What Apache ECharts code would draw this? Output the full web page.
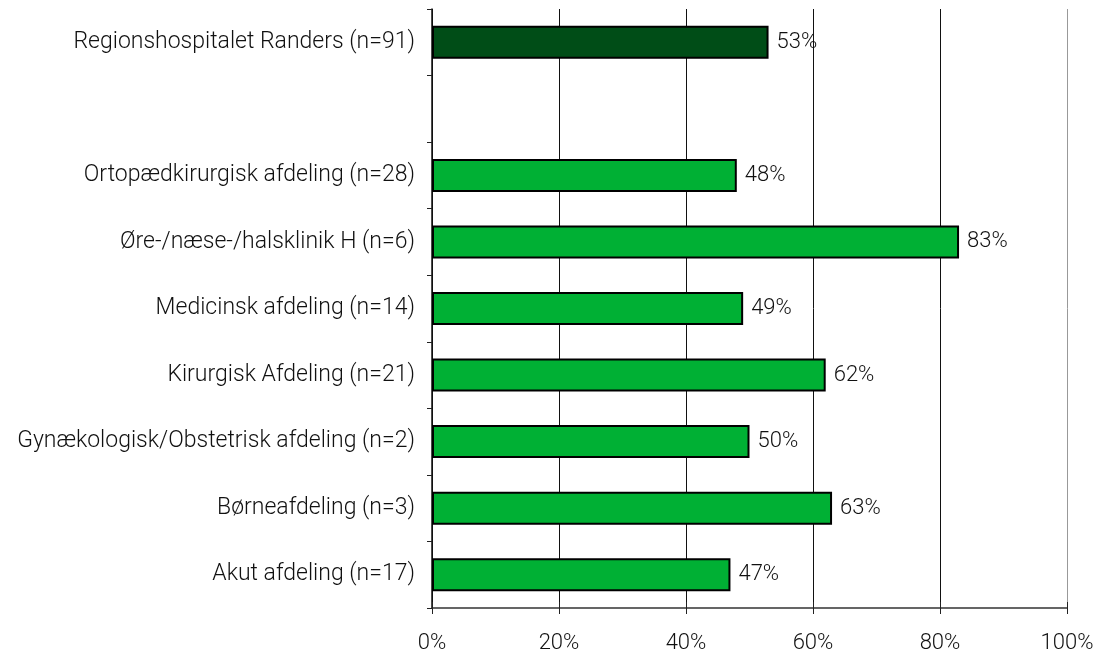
<!DOCTYPE html>
<html><head><meta charset="utf-8">
<script src="https://cdn.jsdelivr.net/npm/echarts@6/dist/echarts.min.js"></script>
<style>html,body{margin:0;padding:0;background:#fff}#c{width:1099px;height:658px}</style>
</head><body><div id="c"></div>
<script>
const categories = ['Regionshospitalet Randers (n=91)', '', 'Ortopædkirurgisk afdeling (n=28)', 'Øre-/næse-/halsklinik H (n=6)', 'Medicinsk afdeling (n=14)', 'Kirurgisk Afdeling (n=21)', 'Gynækologisk/Obstetrisk afdeling (n=2)', 'Børneafdeling (n=3)', 'Akut afdeling (n=17)'];
const values = [53, null, 48, 83, 49, 62, 50, 63, 47];
const highlightIndex = 0;
const xTicks = [0, 20, 40, 60, 80, 100];

const FONT = 'Roboto';
const FW = 300;
const chart = echarts.init(document.getElementById('c'), null, {renderer: 'canvas'});
const grid = {left: 432, right: 32, top: 9, bottom: 50};
chart.setOption({
  animation: false,
  grid: grid,
  xAxis: [{
    type: 'value', min: xTicks[0], max: xTicks[xTicks.length - 1], interval: 20,
    axisLine: {show: true, lineStyle: {color: '#333', width: 1.5}},
    axisTick: {show: true, length: 6, lineStyle: {color: '#222'}},
    axisLabel: {formatter: v => v + '%', fontFamily: FONT, fontWeight: FW, fontSize: 22, color: '#111', margin: 24},
    splitLine: {show: true, lineStyle: {color: ['#111', '#111', '#111', '#111', '#111', '#999'], width: 1}}
  }, {
    type: 'value', min: xTicks[0], max: xTicks[xTicks.length - 1], interval: 20, position: 'bottom',
    axisLine: {show: false}, axisLabel: {show: false}, splitLine: {show: false},
    axisTick: {show: true, inside: true, length: 6, lineStyle: {color: '#222'}}
  }],
  yAxis: {
    type: 'category', data: categories, inverse: true,
    axisLine: {show: true, lineStyle: {color: '#111', width: 1.5}},
    axisTick: {show: true, length: 5, lineStyle: {color: '#222'}},
    axisLabel: {fontFamily: FONT, fontWeight: FW, fontSize: 23, color: '#111', margin: 17}
  },
  series: [{
    type: 'bar', xAxisIndex: 0, barWidth: 33,
    data: values.map((v, i) => v === null ? null : {
      value: v,
      itemStyle: {color: i === highlightIndex ? '#004d17' : '#00b034', borderColor: '#000', borderWidth: 2}
    }),
    label: {show: true, position: 'right', formatter: p => p.value + '%', fontFamily: FONT, fontWeight: FW, fontSize: 22, color: '#111', distance: 8}
  }]
});
</script></body></html>
